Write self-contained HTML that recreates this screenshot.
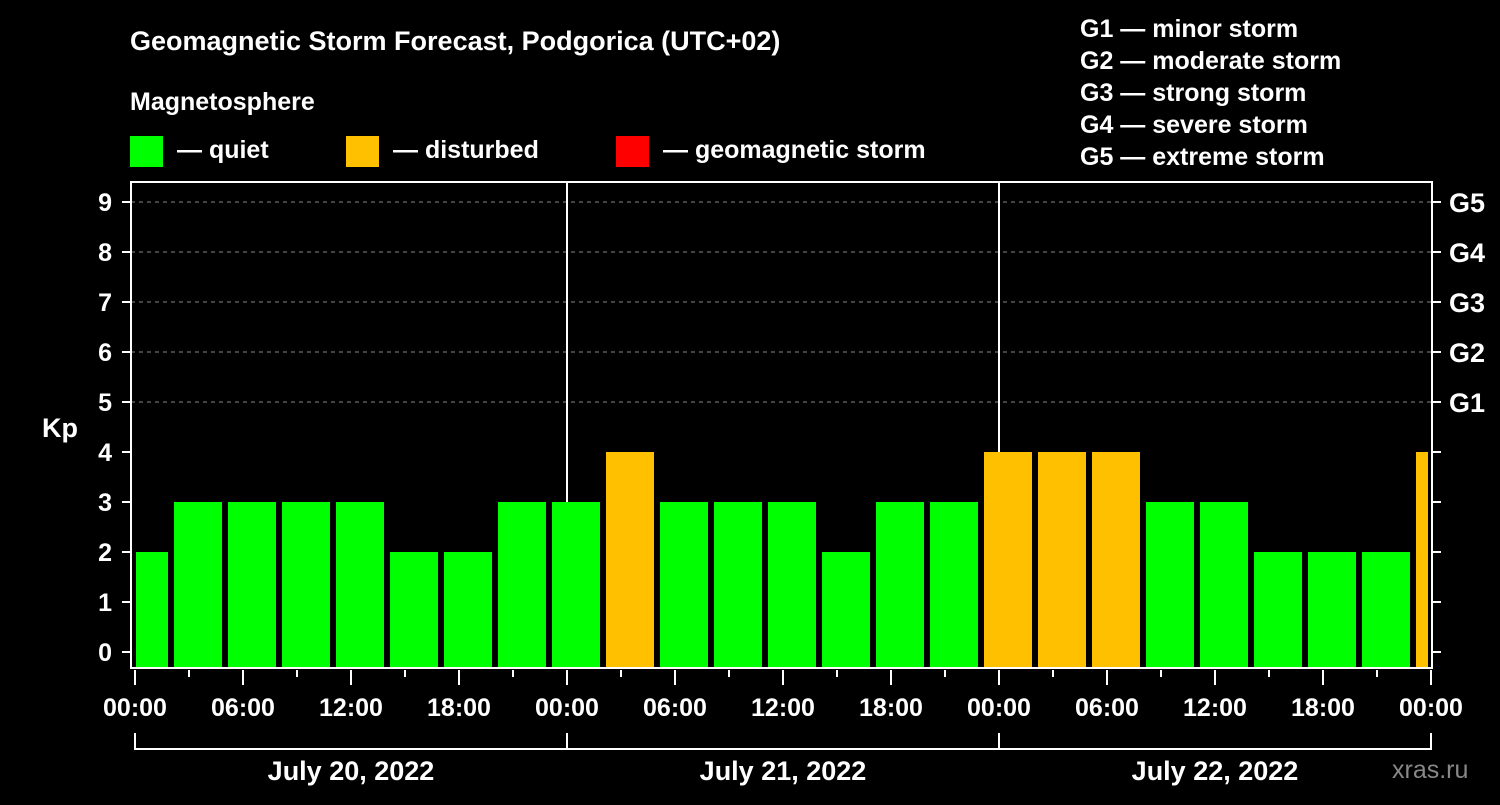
<!DOCTYPE html>
<html><head><meta charset="utf-8"><style>
body{margin:0;background:#000;width:1500px;height:800px;overflow:hidden}
svg text{font-family:"Liberation Sans",sans-serif;font-weight:bold;fill:#fff}
</style></head><body>
<svg id="c" width="1500" height="800">
<rect width="1500" height="800" fill="#000"/>
<text x="130" y="50" font-size="27">Geomagnetic Storm Forecast, Podgorica (UTC+02)</text>
<text x="130" y="110" font-size="25">Magnetosphere</text>
<g><rect x="130" y="136" width="33" height="31" fill="#00ff00"/><text x="177" y="158" font-size="25">— quiet</text></g>
<g><rect x="346" y="136" width="33" height="31" fill="#ffc000"/><text x="393" y="158" font-size="25">— disturbed</text></g>
<g><rect x="616" y="136" width="33" height="31" fill="#ff0000"/><text x="663" y="158" font-size="25">— geomagnetic storm</text></g>
<g font-size="25">
<text x="1080" y="37">G1 — minor storm</text><text x="1080" y="69">G2 — moderate storm</text><text x="1080" y="101">G3 — strong storm</text><text x="1080" y="133">G4 — severe storm</text><text x="1080" y="165">G5 — extreme storm</text></g>
<text x="42" y="437" font-size="27">Kp</text>
<text x="1392" y="778" font-size="25" fill="#888" style="fill:#888;font-weight:normal">xras.ru</text>
<g id="plot"></g>
</svg>
<script>
const kpValues=[2,3,3,3,3,2,2,3,3,4,3,3,3,2,3,3,4,4,4,3,3,2,2,2,4];
const yTicks=[0,1,2,3,4,5,6,7,8,9];
const gLabels=["G1","G2","G3","G4","G5"];
const dates=["July 20, 2022","July 21, 2022","July 22, 2022"];
const hourLabels=["00:00","06:00","12:00","18:00"];
const startHour=-1;
const X0=135,PXH=18,L=131,R=1432,T=182,B=668;
const x=h=>X0+h*PXH, y=v=>652-v*50;
const ns="http://www.w3.org/2000/svg",g=document.getElementById('plot');
function mk(t,a,txt){const e=document.createElementNS(ns,t);for(const k in a)e.setAttribute(k,a[k]);if(txt!=null)e.textContent=txt;g.appendChild(e);return e;}
for(let v=5;v<=9;v++){const e=mk('line',{x1:L,x2:R,y1:y(v),y2:y(v),stroke:'#888','stroke-dasharray':'4,4'});

}
for(let d=1;d<3;d++){const e=mk('line',{x1:x(d*24),x2:x(d*24),y1:T,y2:B,stroke:'#fff','stroke-width':2});

}
kpValues.forEach((v,i)=>{const h0=startHour+i*3;let a=Math.max(x(h0)+3,X0+1),b=Math.min(x(h0+3)-3,R-4);
const e=mk('rect',{x:a,y:y(v),width:b-a,height:B-y(v),fill:v>=5?'#ff0000':v>=4?'#ffc000':'#00ff00'});

});
const fr=mk('rect',{x:L,y:T,width:R-L,height:B-T,fill:'none',stroke:'#fff','stroke-width':2});


yTicks.forEach(v=>{mk('line',{x1:122,x2:L,y1:y(v),y2:y(v),stroke:'#fff','stroke-width':2});mk('line',{x1:R,x2:1441,y1:y(v),y2:y(v),stroke:'#fff','stroke-width':2});
const t=mk('text',{x:112,y:y(v)+9,'font-size':25,'text-anchor':'end'},v);

});
gLabels.forEach((s,i)=>{const t=mk('text',{x:1449,y:y(5+i)+10,'font-size':27},s);

});
for(let h=0;h<=72;h+=3){const maj=h%6==0;mk('line',{x1:x(h),x2:x(h),y1:B+2,y2:B+(maj?17:9),stroke:'#fff','stroke-width':2});
if(maj){const t=mk('text',{x:x(h),y:716,'font-size':25,'text-anchor':'middle'},hourLabels[(h%24)/6]);

}}
mk('line',{x1:x(0),x2:x(72),y1:749,y2:749,stroke:'#fff','stroke-width':2});
for(let d=0;d<=3;d++)mk('line',{x1:x(d*24),x2:x(d*24),y1:733,y2:750,stroke:'#fff','stroke-width':2});
dates.forEach((s,i)=>{const t=mk('text',{x:x(i*24+12),y:780,'font-size':27,'text-anchor':'middle'},s);

});
</script>
</body></html>
